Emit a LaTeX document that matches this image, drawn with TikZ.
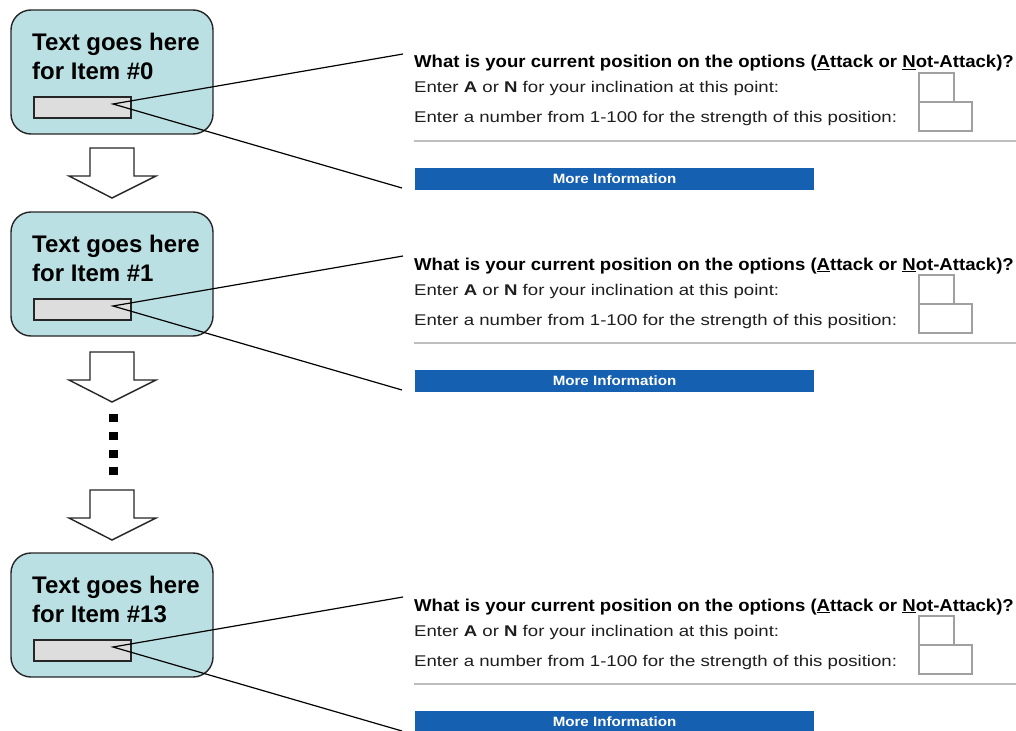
\documentclass[tikz,border=0pt]{standalone}
\usepackage{fontspec}
\setmainfont{Liberation Sans}
\newfontfamily\qfont[FakeStretch=1.08]{Liberation Sans}
\newfontfamily\efont[FakeStretch=1.2]{Liberation Sans}
\newfontfamily\mfont[FakeStretch=1.12]{Liberation Sans}
\definecolor{boxfill}{RGB}{187,224,227}
\definecolor{rectfill}{RGB}{221,221,221}
\definecolor{btnblue}{RGB}{22,96,178}
\definecolor{sepgray}{RGB}{190,190,190}
\definecolor{inborder}{RGB}{160,160,160}
\definecolor{txtdark}{RGB}{30,30,30}
\begin{document}
\begin{tikzpicture}[x=1pt,y=-1pt,
  itembox/.style={draw=black!85, line width=1.4pt, fill=boxfill, rounded corners=20pt,
    minimum width=202pt, minimum height=124pt, inner sep=0pt},
  boxtext/.style={font=\bfseries\fontsize{24}{29}\selectfont, align=left, inner sep=0pt, anchor=north west},
  slot/.style={draw=black!85, line width=1.2pt, fill=rectfill, minimum width=97pt, minimum height=21pt, inner sep=0pt},
  conn/.style={draw=black, line width=1.2pt},
  blockarr/.style={draw=black!85, line width=1.4pt, fill=white, line join=miter},
  dotsq/.style={fill=black, draw=none},
  question/.style={font=\qfont\bfseries\fontsize{17.2}{20}\selectfont, text=black, inner sep=0pt, anchor=base west},
  entry/.style={font=\efont\fontsize{15.5}{18}\selectfont, text=txtdark, inner sep=0pt, anchor=base west},
  inbox/.style={draw=inborder, line width=1.3pt, fill=white, inner sep=0pt, minimum height=29pt},
  sepline/.style={draw=sepgray, line width=1.4pt},
  button/.style={fill=btnblue, draw=none, minimum width=399pt, minimum height=22pt, inner sep=0pt},
  btntext/.style={font=\mfont\bfseries\fontsize{13.5}{16}\selectfont, text=white, inner sep=0pt},
  barrow/.pic={\draw[blockarr] (-22,0) -- (22,0) -- (22,28) -- (44,28) -- (0,50) -- (-43,28) -- (-22,28) -- cycle;}
]
\useasboundingbox[fill=white] (0,0) rectangle (1016,730);

\foreach \i/\dy/\lab in {0/0/0,1/202/1,2/543/13}{
  % left item box
  \node[itembox] (box\i) at (112,{72+\dy}) {};
  \node[boxtext] (txt\i) at (32,{33+\dy}) {Text goes here\\for Item \#\lab};
  \node[slot] (slot\i) at (82.5,{107.5+\dy}) {};
  \coordinate (apex\i) at (113,{104+\dy});
  % right panel
  \node[question] (q\i) at (414,{68+\dy}) {What is your current position on the options (\underline{A}ttack or \underline{N}ot-Attack)?};
  \node[entry] (e\i) at (414,{93+\dy}) {Enter \textbf{A} or \textbf{N} for your inclination at this point:};
  \node[entry] (f\i) at (414,{123+\dy}) {Enter a number from 1-100 for the strength of this position:};
  \node[inbox, minimum width=35pt] (ina\i) at (936.5,{87.5+\dy}) {};
  \node[inbox, minimum width=53pt] (inb\i) at (945.5,{116.5+\dy}) {};
  \draw[sepline] (414,{141+\dy}) -- (1016,{141+\dy});
  \node[button] (btn\i) at (614.5,{179+\dy}) {};
  \node[btntext] (bt\i) at (btn\i.center) {More Information};
  % callout connectors
  \coordinate (up\i) at (403,{54+\dy});
  \coordinate (lo\i) at (402,{188+\dy});
  \draw[conn] (up\i) -- (apex\i) -- (lo\i);
}

% block arrows between items
\pic at (112,148) {barrow};
\pic at (112,352) {barrow};
\pic at (112,490) {barrow};

% vertical ellipsis
\fill[dotsq] (109,414) rectangle (118,422);
\fill[dotsq] (109,432) rectangle (118,440);
\fill[dotsq] (109,450) rectangle (118,458);
\fill[dotsq] (109,467) rectangle (118,475);
\end{tikzpicture}
\end{document}
